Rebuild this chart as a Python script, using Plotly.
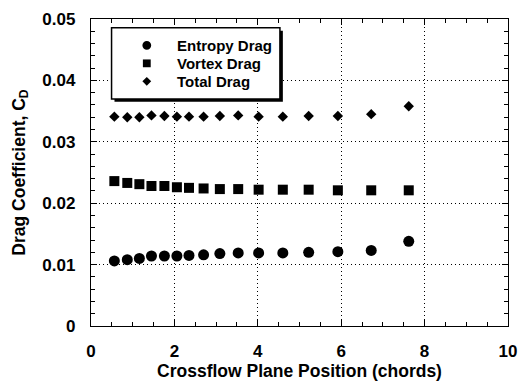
import plotly.graph_objects as go

# Crossflow plane positions (chords) and drag coefficient components
position = [0.56, 0.87, 1.16, 1.45, 1.76, 2.06, 2.35, 2.70, 3.09, 3.53,
            4.02, 4.60, 5.22, 5.92, 6.72, 7.62]
entropy_drag = [0.0106, 0.0108, 0.0110, 0.0114, 0.0114, 0.0114, 0.0115, 0.0116,
                0.0118, 0.0119, 0.0119, 0.0119, 0.0120, 0.0121, 0.0123, 0.0138]
vortex_drag = [0.0236, 0.0233, 0.0231, 0.0228, 0.0228, 0.0226, 0.0225, 0.0224,
               0.0223, 0.0223, 0.0222, 0.0222, 0.0222, 0.0221, 0.0221, 0.0221]
total_drag = [0.0341, 0.0340, 0.0340, 0.0343, 0.0342, 0.0341, 0.0341, 0.0341,
              0.0342, 0.0343, 0.0341, 0.0341, 0.0342, 0.0342, 0.0345, 0.0358]

series_names = ["Entropy Drag", "Vortex Drag", "Total Drag"]
x_ticks = [0, 2, 4, 6, 8, 10]
y_ticks = [0, 0.01, 0.02, 0.03, 0.04, 0.05]
y_tick_text = ["0", "0.01", "0.02", "0.03", "0.04", "0.05"]

FONT = "Liberation Sans, Arial, sans-serif"
W, H = 527, 386
ML, MR, MT, MB = 91, 10, 13, 58
PW, PH = W - ML - MR, H - MT - MB


def px_x(p):
    return (p - ML) / PW


def px_y(p):
    return (H - MB - p) / PH


fig = go.Figure()

styles = [("circle", 11), ("square", 10), ("diamond", 8)]
for name, ys, (sym, size) in zip(series_names,
                                  [entropy_drag, vortex_drag, total_drag],
                                  styles):
    fig.add_trace(go.Scatter(
        x=position, y=ys, mode="markers", name=name, showlegend=False,
        marker=dict(symbol=sym, size=size, color="black"),
    ))

axis_common = dict(
    showline=True, linecolor="black", linewidth=1.3, mirror="allticks",
    ticks="inside", ticklen=6, tickwidth=1, tickcolor="black",
    showgrid=True, gridcolor="black", gridwidth=1, griddash="1px,3px",
    zeroline=False,
    tickfont=dict(family=FONT, size=17, color="black", weight="bold"),
)
title_font = dict(family=FONT, size=17.5, color="black", weight="bold")

fig.update_xaxes(
    range=[0, 10], tickvals=x_ticks, ticklabelstandoff=9,
    minor=dict(dtick=0.5, ticks="inside", ticklen=4, tickcolor="black", showgrid=False),
    title=dict(text="Crossflow Plane Position (chords)", standoff=3, font=title_font),
    **axis_common,
)
fig.update_yaxes(
    range=[0, 0.05], tickvals=y_ticks, ticktext=y_tick_text, ticklabelstandoff=11,
    minor=dict(dtick=0.002, ticks="inside", ticklen=4, tickcolor="black", showgrid=False),
    title=dict(text="Drag Coefficient, C<sub>D</sub>", standoff=12, font=title_font),
    **axis_common,
)

# legend frame with drop shadow
fig.add_shape(type="rect", xref="paper", yref="paper",
              x0=px_x(115), x1=px_x(287), y0=px_y(98), y1=px_y(25),
              fillcolor="black", line=dict(width=0), layer="above")
fig.add_shape(type="rect", xref="paper", yref="paper",
              x0=px_x(112), x1=px_x(284), y0=px_y(95), y1=px_y(22),
              fillcolor="white", line=dict(color="black", width=1.5), layer="above")

# legend entries: symbol + label
sym_x = 148
text_x = 177
row_y = [40, 58.5, 77]
r = 4.5
for name, (sym, _), yy in zip(series_names, styles, row_y):
    if sym == "circle":
        fig.add_shape(type="circle", xref="paper", yref="paper",
                      x0=px_x(sym_x - r), x1=px_x(sym_x + r),
                      y0=px_y(yy + r), y1=px_y(yy - r),
                      fillcolor="black", line=dict(width=0), layer="above")
    elif sym == "square":
        s = 4
        fig.add_shape(type="rect", xref="paper", yref="paper",
                      x0=px_x(sym_x - s), x1=px_x(sym_x + s),
                      y0=px_y(yy + s), y1=px_y(yy - s),
                      fillcolor="black", line=dict(width=0), layer="above")
    else:
        d = 4.5
        path = (f"M {px_x(sym_x - d)} {px_y(yy)} L {px_x(sym_x)} {px_y(yy - d)} "
                f"L {px_x(sym_x + d)} {px_y(yy)} L {px_x(sym_x)} {px_y(yy + d)} Z")
        fig.add_shape(type="path", xref="paper", yref="paper", path=path,
                      fillcolor="black", line=dict(width=0), layer="above")
    fig.add_annotation(x=px_x(text_x), y=px_y(yy), xref="paper", yref="paper",
                       text=name, showarrow=False, xanchor="left", yanchor="middle",
                       font=dict(family=FONT, size=15, color="black", weight="bold"))

fig.update_layout(
    width=W, height=H,
    margin=dict(l=ML, r=MR, t=MT, b=MB),
    paper_bgcolor="white", plot_bgcolor="white",
    showlegend=False,
)

fig.write_html("out.html")
